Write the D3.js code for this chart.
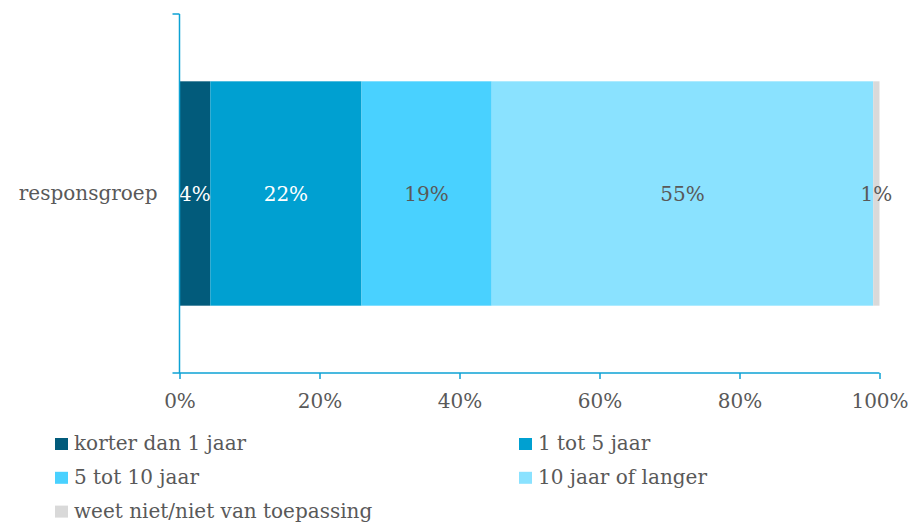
<!DOCTYPE html>
<html>
<head>
<meta charset="utf-8">
<script src="https://cdn.jsdelivr.net/npm/d3@7"></script>
<style>
  body { margin: 0; background: #fff; }
  text { font-family: "DejaVu Serif", serif; fill: #595959; }
</style>
</head>
<body>
<script>
// data
var categories = ['responsgroep'];
var seriesNames = ['korter dan 1 jaar', '1 tot 5 jaar', '5 tot 10 jaar', '10 jaar of langer', 'weet niet/niet van toepassing'];
var seriesValues = [4.4, 21.6, 18.6, 54.5, 0.9];
var seriesColors = ['#025B7B', '#00A0D1', '#49D1FF', '#8AE2FF', '#D9D9D9'];
var labelColors = ['#ffffff', '#ffffff', '#595959', '#595959', '#595959'];
var tickValues = [0, 20, 40, 60, 80, 100];

var W = 912, H = 523;
var fs = '20px';
var axisColor = '#0DA2D4';
var margin = { top: 14, right: 33, bottom: 150, left: 179.5 },
  width = 879.5 - margin.left,
  height = 373 - margin.top;

var svg = d3.select('body').append('svg')
  .attr('width', W).attr('height', H);

var g = svg.append('g')
  .attr('transform', 'translate(' + margin.left + ',' + margin.top + ')');

var xScale = d3.scaleLinear().domain([0, 100]).range([0, width]);
var yScale = d3.scaleBand().domain(categories).range([0, height]).paddingInner(0.375).paddingOuter(0.1875);

// stacked segments
var stackRows = [];
var acc = 0;
seriesValues.forEach(function (v, i) {
  stackRows.push({ name: seriesNames[i], x0: acc, x1: acc + v, v: v, i: i });
  acc += v;
});

g.selectAll('.seg')
  .data(stackRows)
  .enter()
  .append('rect')
  .attr('class', 'seg')
  .attr('x', function (d) { return xScale(d.x0); })
  .attr('width', function (d) { return xScale(d.x1) - xScale(d.x0); })
  .attr('y', yScale(categories[0]))
  .attr('height', yScale.bandwidth())
  .style('fill', function (d) { return seriesColors[d.i]; });

g.selectAll('.lbl')
  .data(stackRows)
  .enter()
  .append('text')
  .attr('class', 'lbl')
  .attr('x', function (d) { return xScale((d.x0 + d.x1) / 2); })
  .attr('y', yScale(categories[0]) + yScale.bandwidth() / 2)
  .attr('dy', '0.35em')
  .attr('text-anchor', 'middle')
  .style('font-size', fs)
  .style('fill', function (d) { return labelColors[d.i]; })
  .text(function (d) { return Math.round(d.v) + '%'; });

// axes
var xAxis = d3.axisBottom(xScale).tickValues(tickValues)
  .tickFormat(function (d) { return d + '%'; })
  .tickSize(6).tickSizeOuter(0).tickPadding(15);

var xg = g.append('g')
  .attr('transform', 'translate(0,' + height + ')')
  .call(xAxis);
xg.select('.domain').remove();
xg.append('line').attr('x1', -7).attr('x2', width).attr('y1', 0).attr('y2', 0)
  .attr('stroke', axisColor).attr('stroke-width', 1.5);
xg.selectAll('.tick line').attr('stroke', axisColor).attr('stroke-width', 1.5);
xg.selectAll('.tick text').style('font-size', fs).style('fill', '#595959')
  .style('font-family', '"DejaVu Serif", serif');

var yAxis = d3.axisLeft(yScale).tickSize(0).tickPadding(22);
var yg = g.append('g').call(yAxis);
yg.select('.domain').remove();
yg.append('line').attr('x1', 0).attr('x2', 0).attr('y1', 0).attr('y2', height)
  .attr('stroke', axisColor).attr('stroke-width', 1.5);
yg.append('line').attr('x1', -7).attr('x2', 0).attr('y1', 0).attr('y2', 0)
  .attr('stroke', axisColor).attr('stroke-width', 1.5);
yg.selectAll('.tick text').style('font-size', fs).style('fill', '#595959')
  .style('font-family', '"DejaVu Serif", serif');

// legend
var legend = svg.append('g').attr('class', 'legend');
var items = legend.selectAll('.item')
  .data(seriesNames)
  .enter()
  .append('g')
  .attr('class', 'item')
  .attr('transform', function (d, i) {
    var col = i % 2, row = Math.floor(i / 2);
    return 'translate(' + (col ? 519 : 55) + ',' + (444 + row * 33.8) + ')';
  });
items.append('rect')
  .attr('x', 0).attr('y', -6)
  .attr('width', 13).attr('height', 12)
  .style('fill', function (d, i) { return seriesColors[i]; });
items.append('text')
  .attr('x', 19).attr('y', 0).attr('dy', '0.3em')
  .style('font-size', fs)
  .text(function (d) { return d; });
</script>
</body>
</html>
